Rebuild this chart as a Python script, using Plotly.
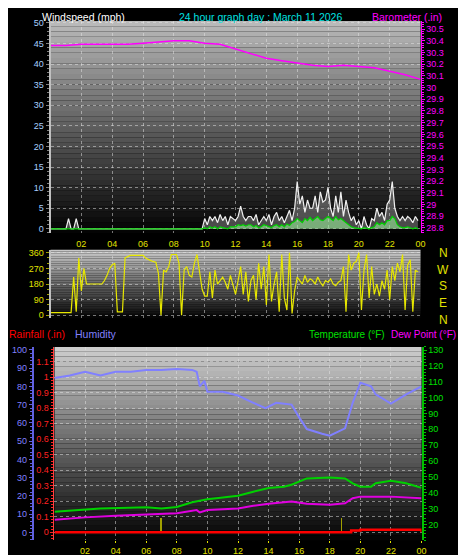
import numpy as np
import plotly.graph_objects as go

W, H = 466, 555
hour_ticks = [2, 4, 6, 8, 10, 12, 14, 16, 18, 20, 22, 24]
hour_labels = ["02", "04", "06", "08", "10", "12", "14", "16", "18", "20", "22", "00"]

# Barometer (hourly)
baro_h = list(range(25))
baro = [30.36, 30.36, 30.37, 30.37, 30.37, 30.37, 30.38, 30.39, 30.40, 30.40, 30.38, 30.37,
        30.33, 30.29, 30.25, 30.23, 30.21, 30.19, 30.18, 30.19, 30.18, 30.17, 30.14, 30.11, 30.07]

# Wind, 10-minute samples
gust = ([0]*6 + [0, 2.5, 0, 0, 2.5, 0] + [0]*48 +
        [2.5, 1, 3, 2, 3, 1.5, 3.5, 2, 3, 1, 3, 2.5, 2, 3, 5.5, 3, 2, 3,
         3, 2, 3.5, 1, 2, 3, 2, 3.5, 1, 3, 4, 2, 3, 1.5, 3, 4.5, 2, 5,
         11.5, 6, 8, 4, 7, 5, 5, 8, 4, 9, 6.5, 7, 10, 5, 3, 8, 4, 9,
         3, 7, 4, 2, 3, 1, 2, 0, 3, 1, 0, 2.5, 2, 5, 3, 4, 2, 6,
         7, 11.5, 5, 3, 2, 3, 2, 3, 2.5, 1.5, 3, 2])
avg = ([0]*60 +
       [0.3, 0, 0.5, 0.2, 0.5, 0, 0.5, 0.3, 0.2, 0, 0.5, 0.5, 0.5, 1, 0.8, 1, 0.7, 1,
        1, 0.5, 0.8, 0.3, 0.5, 1, 0.8, 0.5, 0.3, 0.8, 1, 0.5, 1, 0.5, 1.2, 0.8, 1.5, 1.8,
        2.5, 2, 1.5, 2.5, 2, 2.8, 2, 2.5, 3, 2.2, 2, 2.5, 3, 2.5, 2, 3, 2.2, 2.5,
        2, 1.5, 1, 0.5, 0.3, 0.2, 0.2, 0, 0.3, 0.2, 0, 0.3, 0.5, 1.5, 1, 1.5, 1, 2,
        2, 3, 2.5, 1, 0.5, 0.3, 0.3, 0.5, 0.2, 0, 0.3, 0])
direction = [15, 15, 15, 15, 15, 15, 15, 15, 15, 220, 20, 330,
             140, 270, 180, 180, 180, 180, 180, 180, 180, 200, 230, 270,
             290, 300, 20, 20, 20, 330, 340, 345, 345, 345, 345, 345,
             345, 330, 320, 315, 310, 305, 240, 0, 260, 250, 280, 350,
             350, 350, 300, 0, 260, 280, 230, 220, 300, 350, 250, 150,
             110, 110, 250, 100, 260, 180, 200, 220, 190, 150, 230, 170,
             120, 200, 280, 120, 250, 80, 200, 230, 90, 300, 150, 280,
             60, 350, 80, 180, 250, 20, 350, 100, 30, 360, 10, 140,
             220, 200, 180, 230, 190, 210, 200, 180, 220, 190, 170, 200,
             190, 210, 180, 170, 190, 200, 280, 20, 350, 260, 300, 310,
             360, 30, 260, 350, 100, 280, 120, 180, 110, 200, 150, 260,
             90, 280, 200, 300, 250, 350, 30, 290, 320, 20, 260, 250]
wind_t = [i / 6 for i in range(len(gust))]

# Bottom panel
hum_h = [0, 1, 2, 3, 4, 5, 6, 7, 8, 9, 9.3, 9.5, 9.8, 10, 11, 12, 13, 13.8, 14.5, 15.5, 16,
         16.5, 17.5, 18, 19, 19.5, 20, 20.7, 21, 22, 23, 24]
hum = [84.6, 86, 88, 86, 88, 88, 89, 89, 89.5, 89, 88, 80, 83, 77, 77, 75, 71, 68, 71, 70, 63,
       56.6, 54, 53, 57, 71, 82, 80, 75.6, 70.5, 75.6, 80]
temp_h = [0, 2, 3, 6, 7, 8, 9, 10, 12, 13, 14, 15, 15.5, 16.5, 18, 19, 19.5, 20, 20.7, 21, 22, 23, 24]
temp = [28, 29.6, 30, 30.8, 30, 31, 34, 35.8, 38, 40.6, 43, 43.8, 45, 49, 49.6, 49, 45.9, 43.8,
        43.8, 46, 47.5, 45.9, 43]
dew_h = [0, 2, 4, 6, 8, 9.3, 9.5, 10, 12, 13, 14, 15.5, 16.5, 18, 19, 19.5, 20, 22, 24]
dew = [22.9, 24.4, 25.4, 26, 27, 29, 27.5, 29, 30, 31.7, 33, 34.4, 33, 32.3, 33.3, 36.5, 37.5,
       37.5, 36.5]
rain_h = [0, 19.3, 19.4, 20, 23.9, 24]
rain = [0, 0, 0.012, 0.016, 0.016, 0]
rate_h = [7.0, 18.8]
rate = [0.09, 0.09]

fig = go.Figure()
FAM = "Liberation Sans"
fnt = dict(family=FAM, size=9)

def px_x(p): return p / W
def px_y(p): return 1 - p / H

def gradient(x0, x1, y0, y1, top, n=40):
    for i in range(n):
        f = 1 - i / n
        c = int(top * f)
        fig.add_shape(type="rect", xref="paper", yref="paper",
                      x0=px_x(x0), x1=px_x(x1),
                      y0=px_y(y0 + (y1 - y0) * i / n), y1=px_y(y0 + (y1 - y0) * (i + 1) / n),
                      fillcolor=f"rgb({c},{c},{c})", line_width=0, layer="below")

gradient(43, 417, 10, 224, 185)
gradient(43, 417, 241, 310, 200)
gradient(47, 418, 339, 534, 205)

fig.add_trace(go.Scatter(x=wind_t, y=gust, mode="lines", line=dict(color="#f0f0f0", width=1.2),
                         fill="tozeroy", fillcolor="rgba(200,200,200,0.35)", xaxis="x", yaxis="y"))
fig.add_trace(go.Scatter(x=wind_t, y=avg, mode="lines", line=dict(color="#00d000", width=1.2),
                         fill="tozeroy", fillcolor="rgba(160,255,160,0.55)", xaxis="x", yaxis="y"))
fig.add_trace(go.Scatter(x=baro_h, y=baro, mode="lines", line=dict(color="#ff00ff", width=1.5),
                         xaxis="x", yaxis="y2"))
fig.add_trace(go.Scatter(x=wind_t, y=direction, mode="lines", line=dict(color="#e8e800", width=1.2),
                         xaxis="x2", yaxis="y3"))
fig.add_trace(go.Scatter(x=hum_h, y=hum, mode="lines", line=dict(color="#8080ff", width=2),
                         xaxis="x3", yaxis="y4"))
fig.add_trace(go.Bar(x=rate_h, y=rate, width=0.06, marker=dict(color="#a0a000", line_width=0),
                     xaxis="x3", yaxis="y5"))
fig.add_trace(go.Scatter(x=rain_h, y=rain, mode="lines", line=dict(color="#ff0000", width=2.5, shape="hv"),
                         xaxis="x3", yaxis="y5"))
fig.add_trace(go.Scatter(x=temp_h, y=temp, mode="lines", line=dict(color="#00d000", width=2),
                         xaxis="x3", yaxis="y6"))
fig.add_trace(go.Scatter(x=dew_h, y=dew, mode="lines", line=dict(color="#e000e0", width=2),
                         xaxis="x3", yaxis="y6"))

grid = dict(showgrid=True, gridcolor="rgba(230,230,230,0.5)", griddash="dot", gridwidth=1)
xcommon = dict(range=[0, 24], tickvals=hour_ticks, ticktext=hour_labels, tickfont=dict(fnt, color="#e0e000"),
               zeroline=False, **grid)

fig.update_layout(
    width=W, height=H, margin=dict(l=0, r=0, t=0, b=0),
    paper_bgcolor="black", plot_bgcolor="rgba(0,0,0,0)", showlegend=False, bargap=0,
    xaxis=dict(domain=[px_x(43), px_x(417)], anchor="y", showticklabels=False, **xcommon),
    yaxis=dict(domain=[px_y(224), px_y(10)], range=[-1, 50.5], tickvals=list(range(0, 51, 5)),
               tickfont=dict(fnt, color="#a8d0ff"), showline=True, linecolor="#c0c0c0", linewidth=2,
               ticks="outside", ticklen=3, tickcolor="#808080", zeroline=False,
               minor=dict(ticks="outside", ticklen=2, tickcolor="#808080", dtick=1), **grid),
    yaxis2=dict(overlaying="y", side="right", anchor="x", range=[28.757, 30.57],
                tickvals=[round(28.8 + 0.1 * i, 1) for i in range(18)],
                ticktext=[("%.1f" % (28.8 + 0.1 * i)).replace("29.0", "29").replace("30.0", "30") for i in range(18)],
                tickfont=dict(fnt, color="#ff00ff"), showline=True, linecolor="#ff00ff", linewidth=1,
                ticks="outside", ticklen=3, tickcolor="#ff00ff", showgrid=False, zeroline=False,
                minor=dict(ticks="outside", ticklen=2, tickcolor="#ff00ff", dtick=0.02)),
    xaxis2=dict(domain=[px_x(43), px_x(417)], anchor="y3", side="top", ticks="", **xcommon),
    yaxis3=dict(domain=[px_y(310), px_y(241)], range=[-17, 377], tickvals=[0, 90, 180, 270, 360],
                tickfont=dict(fnt, color="#e0e000"), showline=True, linecolor="#c0c0c0", linewidth=2,
                ticks="outside", ticklen=3, tickcolor="#a0a000", zeroline=False,
                minor=dict(ticks="outside", ticklen=2, tickcolor="#a0a000", dtick=30), **grid),
    xaxis3=dict(domain=[px_x(47), px_x(418)], anchor="y5", ticks="outside", ticklen=2,
                tickcolor="#e0e000", **xcommon),
    yaxis4=dict(domain=[px_y(534), px_y(339)], anchor="free", position=px_x(25), overlaying="y5",
                range=[-4.3, 101.6], tickvals=list(range(0, 101, 10)),
                tickfont=dict(fnt, color="#8080ff"), showline=True, linecolor="#6060e0", linewidth=2,
                ticks="outside", ticklen=3, tickcolor="#6060e0", showgrid=False, zeroline=False,
                minor=dict(ticks="outside", ticklen=2, tickcolor="#6060e0", dtick=2)),
    yaxis5=dict(domain=[px_y(534), px_y(339)], anchor="x3", range=[-0.051, 1.196],
                tickvals=[round(0.1 * i, 1) for i in range(12)],
                ticktext=["0"] + ["%.1f" % (0.1 * i) for i in range(1, 10)] + ["1", "1.1"],
                tickfont=dict(fnt, color="#ff2020"), showline=True, linecolor="#ff4040", linewidth=1,
                ticks="outside", ticklen=3, tickcolor="#ff2020", zeroline=False,
                minor=dict(ticks="outside", ticklen=2, tickcolor="#ff2020", dtick=0.02), **grid),
    yaxis6=dict(overlaying="y5", side="right", anchor="x3", range=[10, 132],
                tickvals=list(range(20, 131, 10)), tickfont=dict(fnt, color="#00e000"),
                showline=True, linecolor="#00c000", linewidth=2, ticks="outside", ticklen=3,
                tickcolor="#00c000", showgrid=False, zeroline=False,
                minor=dict(ticks="outside", ticklen=2, tickcolor="#00c000", dtick=2)),
)

def label(text, x, y, color, anchor="left", size=11):
    fig.add_annotation(text=text, x=px_x(x), y=px_y(y), xref="paper", yref="paper", showarrow=False,
                       xanchor=anchor, yanchor="middle", borderpad=0,
                       font=dict(family=FAM, size=size, color=color))

label("Windspeed (mph)", 33, 6, "white", size=10.5)
label("24 hour graph day : March 11 2026", 255, 6, "#00e0e0", "center", size=10.5)
label("Barometer (.in)", 440, 6, "#ff00ff", "right", size=10.5)
label("Rainfall (.in)", 0, 326, "#ff0000", size=10.5)
label("Humidity", 67, 326, "#8080ff", size=10.5)
label("Dew Point (°F)", 454, 326, "#ff00ff", "right", size=10)
label("Temperature (°F)", 382, 326, "#00e000", "right", size=10)
for t, yy in zip(["N", "W", "S", "E", "N"], [244, 261, 278, 295, 312]):
    label(t, 440, yy, "#e0e000", "center", 12)

fig.write_html("out.html")
